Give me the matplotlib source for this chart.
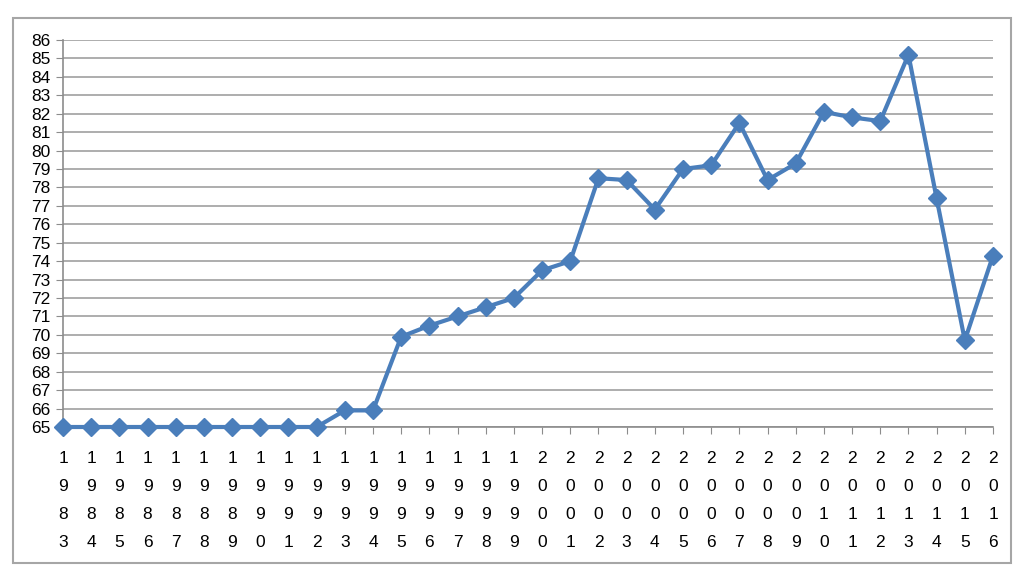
import matplotlib.pyplot as plt
from matplotlib.patches import Rectangle

years = list(range(1983, 2017))
values = [65, 65, 65, 65, 65, 65, 65, 65, 65, 65,
          65.9, 65.9, 69.9, 70.5, 71.0, 71.5, 72.0, 73.5, 74.0, 78.5,
          78.4, 76.8, 79.0, 79.2, 81.5, 78.4, 79.3, 82.1, 81.8, 81.6,
          85.2, 77.4, 69.7, 74.3]
yticks = list(range(65, 87))

plt.rcParams['font.family'] = ['Liberation Sans', 'DejaVu Sans']

fig = plt.figure(figsize=(10.24, 5.76), dpi=100)
fig.patches.append(Rectangle((13/1024, 1 - 563/576), 998/1024, 545/576,
                             transform=fig.transFigure, fill=False,
                             edgecolor='#a6a6a6', linewidth=1.5))

ax = fig.add_axes([63/1024, 1 - 427/576, 930/1024, 387/576])
ax.set_xlim(years[0], years[-1])
ax.set_ylim(65, 86)
ax.set_yticks(yticks)
ax.set_xticks(years)
ax.set_xticklabels(['\n'.join(str(y)) for y in years], linespacing=2.1)
ax.grid(axis='y', color='#a0a0a0', linewidth=1.2)
ax.set_axisbelow(True)

for s in ['top', 'right']:
    ax.spines[s].set_visible(False)
for s in ['left', 'bottom']:
    ax.spines[s].set_color('#8c8c8c')
    ax.spines[s].set_linewidth(1.2)
ax.tick_params(axis='y', colors='#8c8c8c', labelcolor='black', length=5, labelsize=12.5, pad=4)
ax.tick_params(axis='x', colors='#8c8c8c', labelcolor='black', length=5, labelsize=12.5, pad=12)

ax.plot(years, values, color='#4a7ebb', linewidth=3, marker='D', markersize=9,
        clip_on=False, zorder=5)

fig.savefig('out.png', dpi=100)
